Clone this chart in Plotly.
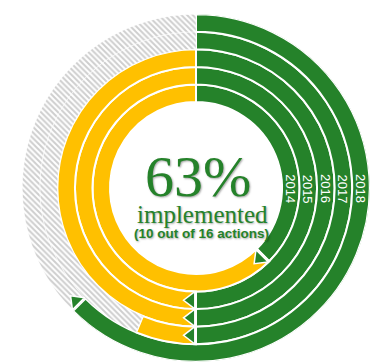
import math

import plotly.graph_objects as go

# data (16 actions per year)
years = ["2014", "2015", "2016", "2017", "2018"]
total_actions = 16
implemented = [6, 8, 8, 8, 10]
in_progress = [10, 8, 8, 1, 0]
not_started = [0, 0, 0, 7, 6]

GREEN = "#25822A"
YELLOW = "#FFC000"
HATCH = "#9E9E9E"

# the page body has an 8px margin, so the figure is drawn 8px in from the window
PAGE_OFF = 8
W, H = 380 - PAGE_OFF, 362 - PAGE_OFF
CX, CY = 196 - PAGE_OFF, 188 - PAGE_OFF   # centre of the rings inside the figure
R_PX = 174                 # outer radius, px
R_MAX = 176                # radial range (units)
INNER = 87                 # inner edge of 2014 ring
PITCH = 17.75              # ring thickness incl. white gap

deg = 360 / total_actions
bases = [INNER + i * PITCH for i in range(len(years))]


def segments(start_counts, counts):
    thetas, widths, rs, bs = [], [], [], []
    for i, (s, c) in enumerate(zip(start_counts, counts)):
        if c <= 0:
            continue
        thetas.append((s + c / 2) * deg)
        widths.append(c * deg)
        rs.append(PITCH)
        bs.append(bases[i])
    return thetas, widths, rs, bs


def px(x, y):
    return x / W, 1 - y / H


fig = go.Figure()

line = dict(color="white", width=2)

t, w, r, b = segments([0] * 5, implemented)
fig.add_trace(go.Barpolar(theta=t, width=w, r=r, base=b,
                          marker=dict(color=GREEN, line=line), hoverinfo="skip"))

t, w, r, b = segments(implemented, in_progress)
fig.add_trace(go.Barpolar(theta=t, width=w, r=r, base=b,
                          marker=dict(color=YELLOW, line=line), hoverinfo="skip"))

starts = [a + p for a, p in zip(implemented, in_progress)]
t, w, r, b = segments(starts, not_started)
fig.add_trace(go.Barpolar(theta=t, width=w, r=r, base=b,
                          marker=dict(color="white", line=dict(color="white", width=0.5),
                                      pattern=dict(shape="\\", fgcolor=HATCH, bgcolor="white",
                                                   size=4, solidity=0.5)),
                          hoverinfo="skip"))

# arrow heads at the end of each green run
arrow_r = [bb + PITCH / 2 for bb in bases]
arrow_t = [n * deg + 5 / rr * 180 / math.pi for n, rr in zip(implemented, arrow_r)]
fig.add_trace(go.Scatterpolar(
    r=arrow_r, theta=arrow_t, mode="markers", hoverinfo="skip",
    marker=dict(symbol="triangle-up", size=15, color=GREEN,
                angle=[n * deg + 90 for n in implemented],
                line=dict(color="white", width=1.5)),
))

scale = R_PX / R_MAX
annotations = []
for yr, rr in zip(years, arrow_r):
    x, y = px(CX + rr * scale, CY + 1)
    annotations.append(dict(
        x=x, y=y, xref="paper", yref="paper", xanchor="center", yanchor="middle",
        text=yr, textangle=90, showarrow=False,
        font=dict(family="Liberation Sans, Arial", size=13, color="white"),
    ))

shadow = "1px 1px 2px rgba(0,0,0,0.35)"
done = implemented[-1]
pct = int(done / total_actions * 100 + 0.5)
x0, y0 = px(CX + 2, CY - 12)
x1, y1 = px(CX + 6, CY + 26)
x2, y2 = px(CX + 5, CY + 45)
center = dict(xref="paper", yref="paper", xanchor="center", yanchor="middle", showarrow=False)
annotations += [
    dict(center, x=x0, y=y0, text=f"{pct}%",
         font=dict(family="Liberation Serif, Times New Roman", size=58, color=GREEN,
                   shadow=shadow)),
    dict(center, x=x1, y=y1, text="implemented",
         font=dict(family="Liberation Serif, Times New Roman", size=25, color=GREEN,
                   shadow=shadow)),
    dict(center, x=x2, y=y2, text=f"<b>({done} out of {total_actions} actions)</b>",
         font=dict(family="Liberation Sans Narrow, Arial Narrow, Arial", size=13.5,
                   color=GREEN, shadow=shadow)),
]

fig.update_layout(
    width=W, height=H,
    margin=dict(l=0, r=0, t=0, b=0),
    paper_bgcolor="white",
    showlegend=False,
    polar=dict(
        domain=dict(x=[(CX - R_PX) / W, (CX + R_PX) / W],
                    y=[max(0, 1 - (CY + R_PX) / H), 1 - (CY - R_PX) / H]),
        bgcolor="white",
        barmode="overlay",
        radialaxis=dict(range=[0, R_MAX], visible=False),
        angularaxis=dict(rotation=90, direction="clockwise", visible=False),
    ),
    annotations=annotations,
)

fig.write_html("out.html")
